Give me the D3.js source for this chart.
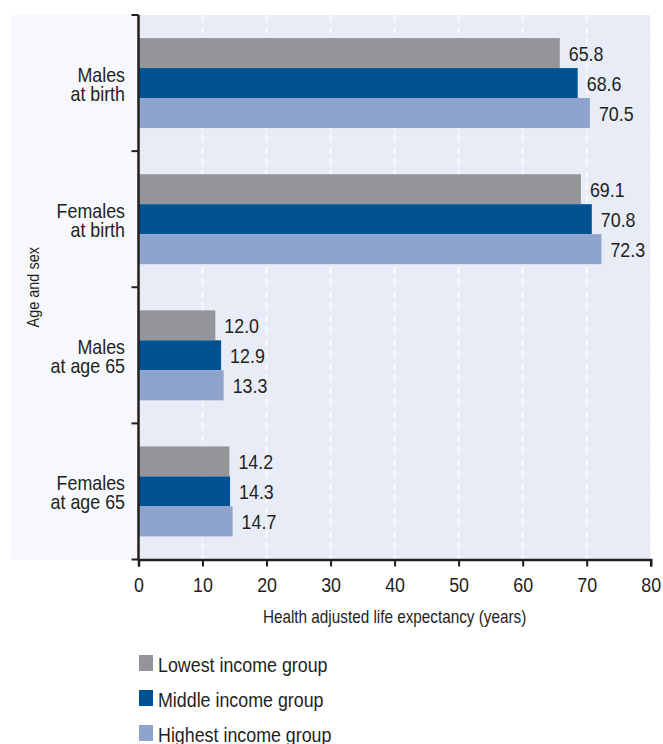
<!DOCTYPE html>
<html>
<head>
<meta charset="utf-8">
<script src="https://cdn.jsdelivr.net/npm/d3@7"></script>
<style>
  html, body { margin: 0; padding: 0; background: #ffffff; }
  svg { display: block; }
  text { font-family: "Liberation Sans", Arial, sans-serif; fill: #231f20; }
</style>
</head>
<body>
<svg id="chart" width="663" height="744"></svg>
<script>
// Categories (two-line labels) and the three income-group series
const categories = ["Males at birth", "Females at birth", "Males at age 65", "Females at age 65"];
const categoryLines = [["Males", "at birth"], ["Females", "at birth"], ["Males", "at age 65"], ["Females", "at age 65"]];
const seriesNames = ["Lowest income group", "Middle income group", "Highest income group"];
const lowestIncome = [65.8, 69.1, 12.0, 14.2];
const middleIncome = [68.6, 70.8, 12.9, 14.3];
const highestIncome = [70.5, 72.3, 13.3, 14.7];
const xTicks = [0, 10, 20, 30, 40, 50, 60, 70, 80];
const colors = ["#939598", "#005293", "#8ea4cc"];

// Horizontal squeeze giving the condensed look of the typeface
const narrow = 0.85;

const seriesValues = [lowestIncome, middleIncome, highestIncome];
const rows = categories.map((c, i) => ({
  category: c,
  lines: categoryLines[i],
  values: seriesNames.map((s, j) => ({ series: s, value: seriesValues[j][i] }))
}));

const svg = d3.select("#chart");
const plot = { left: 138.5, right: 650.7, top: 15, bottom: 559.5 };

const x = d3.scaleLinear().domain([0, 80]).range([plot.left, plot.right]);
const y0 = d3.scaleBand().domain(categories).range([plot.top, plot.bottom]).padding(0);
const y1 = d3.scaleBand().domain(seriesNames).range([0, y0.bandwidth()]).paddingInner(0).paddingOuter(0.77);
const color = d3.scaleOrdinal().domain(seriesNames).range(colors);

// Background panels: pale label strip and tinted plot area
svg.append("rect")
  .attr("x", 11).attr("y", plot.top)
  .attr("width", plot.left - 11).attr("height", plot.bottom - plot.top)
  .attr("fill", "#f6f8fc");
svg.append("rect")
  .attr("x", plot.left).attr("y", plot.top)
  .attr("width", plot.right - plot.left).attr("height", plot.bottom - plot.top)
  .attr("fill", "#e8ecf6");

// Dashed white gridlines
svg.append("g")
  .selectAll("line")
  .data(xTicks.filter(d => d > 0))
  .join("line")
  .attr("x1", d => x(d)).attr("x2", d => x(d))
  .attr("y1", plot.top).attr("y2", plot.bottom)
  .attr("stroke", "#ffffff")
  .attr("stroke-width", 1.5)
  .attr("stroke-dasharray", "7,5");

// Bars
const groups = svg.append("g")
  .selectAll("g")
  .data(rows)
  .join("g")
  .attr("transform", d => `translate(0,${y0(d.category)})`);

groups.selectAll("rect")
  .data(d => d.values)
  .join("rect")
  .attr("x", x(0))
  .attr("y", d => y1(d.series))
  .attr("width", d => x(d.value) - x(0))
  .attr("height", y1.bandwidth())
  .attr("fill", d => color(d.series));

// Value labels
groups.selectAll("text.value")
  .data(d => d.values)
  .join("text")
  .attr("class", "value")
  .attr("transform", d => `translate(${x(d.value) + 9},${y1(d.series) + y1.bandwidth() / 2}) scale(${narrow},1)`)
  .attr("dy", "0.36em")
  .attr("font-size", 21)
  .text(d => d.value.toFixed(1));

// Category labels (two lines, right aligned)
const catLabels = svg.append("g")
  .selectAll("text")
  .data(rows)
  .join("text")
  .attr("text-anchor", "end")
  .attr("font-size", 21)
  .attr("transform", d => `translate(125,${y0(d.category) + y0.bandwidth() / 2}) scale(${narrow},1)`);
catLabels.selectAll("tspan")
  .data(d => d.lines)
  .join("tspan")
  .attr("x", 0)
  .attr("y", (d, i) => i === 0 ? -1.5 : 18)
  .text(d => d);

// Y axis: line with ticks at category boundaries
const yBounds = categories.map(c => y0(c)).concat([plot.bottom]);
svg.append("g")
  .selectAll("line")
  .data(yBounds)
  .join("line")
  .attr("x1", plot.left - 7).attr("x2", plot.left)
  .attr("y1", d => d).attr("y2", d => d)
  .attr("stroke", "#231f20").attr("stroke-width", 2);
svg.append("line")
  .attr("x1", plot.left).attr("x2", plot.left)
  .attr("y1", plot.top).attr("y2", plot.bottom + 1)
  .attr("stroke", "#231f20").attr("stroke-width", 2.5);

// X axis
const xAxis = svg.append("g")
  .attr("transform", `translate(0,${plot.bottom})`)
  .call(d3.axisBottom(x).tickValues(xTicks).tickSize(7).tickPadding(11).tickFormat(d3.format("d")));
xAxis.attr("font-family", null);
xAxis.select(".domain").attr("stroke", "#231f20").attr("stroke-width", 2.5);
xAxis.selectAll(".tick line").attr("stroke", "#231f20").attr("stroke-width", 2);
xAxis.selectAll(".tick text")
  .attr("font-size", 21)
  .attr("fill", "#231f20")
  .attr("transform", `scale(${narrow},1)`);

// Axis titles
svg.append("text")
  .attr("transform", `translate(${(plot.left + plot.right) / 2},623) scale(${narrow},1)`)
  .attr("text-anchor", "middle")
  .attr("font-size", 18)
  .text("Health adjusted life expectancy (years)");

svg.append("text")
  .attr("transform", `translate(39,${(plot.top + plot.bottom) / 2}) rotate(-90) scale(${narrow},1)`)
  .attr("text-anchor", "middle")
  .attr("font-size", 17)
  .text("Age and sex");

// Legend
const legend = svg.append("g")
  .selectAll("g")
  .data(seriesNames)
  .join("g")
  .attr("transform", (d, i) => `translate(139,${655 + i * 35})`);
legend.append("rect")
  .attr("width", 14).attr("height", 16)
  .attr("fill", d => color(d));
legend.append("text")
  .attr("transform", `translate(19,17) scale(${narrow},1)`)
  .attr("font-size", 21)
  .text(d => d);
</script>
</body>
</html>
